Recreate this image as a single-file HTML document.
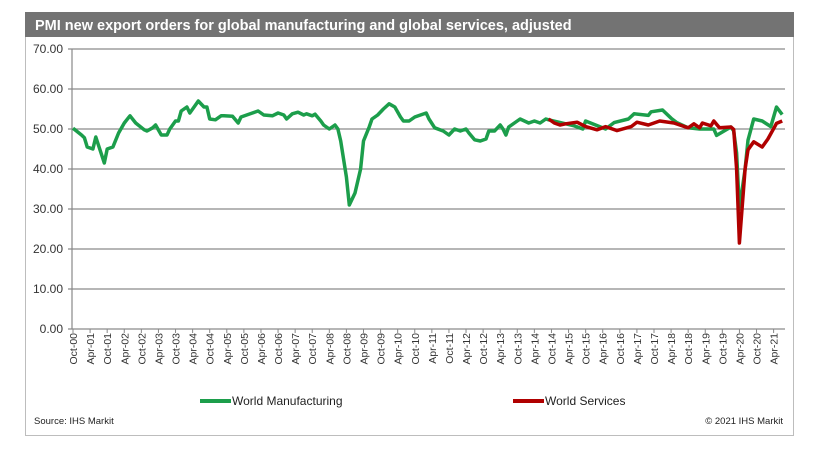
<!DOCTYPE html>
<html><head><meta charset="utf-8"><style>
body{margin:0;background:#fff;font-family:"Liberation Sans",Arial,sans-serif}
svg text{font-family:"Liberation Sans",Arial,sans-serif}
</style></head><body>
<svg id="chart" width="823" height="457" xmlns="http://www.w3.org/2000/svg">
<rect x="25.5" y="12.5" width="768" height="423" fill="#fff" stroke="#bdbdbd"/>
<rect x="25" y="12" width="769" height="25" fill="#737373"/>
<text x="35" y="30" fill="#fff" font-size="14.5" font-weight="bold">PMI new export orders for global manufacturing and global services, adjusted</text>
<g id="grid"></g><g id="yl"></g><g id="xl"></g><g id="lines"></g>
<line x1="200" y1="401" x2="231" y2="401" stroke="#1c9e4b" stroke-width="4"/>
<text x="232" y="405" font-size="12" fill="#222">World Manufacturing</text>
<line x1="513" y1="401" x2="544" y2="401" stroke="#b00000" stroke-width="4"/>
<text x="545" y="405" font-size="12" fill="#222">World Services</text>
<text x="34" y="424" font-size="9.5" fill="#222">Source: IHS Markit</text>
<text x="783" y="424" font-size="9.5" fill="#222" text-anchor="end">© 2021 IHS Markit</text>
</svg>
<script>
const yTicks=[0,10,20,30,40,50,60,70];
const xTickMonths=[0,6,12,18,24,30,36,42,48,54,60,66,72,78,84,90,96,102,108,114,120,126,132,138,144,150,156,162,168,174,180,186,192,198,204,210,216,222,228,234,240,246];
const xTickLabels=["Oct-00","Apr-01","Oct-01","Apr-02","Oct-02","Apr-03","Oct-03","Apr-04","Oct-04","Apr-05","Oct-05","Apr-06","Oct-06","Apr-07","Oct-07","Apr-08","Oct-08","Apr-09","Oct-09","Apr-10","Oct-10","Apr-11","Oct-11","Apr-12","Oct-12","Apr-13","Oct-13","Apr-14","Oct-14","Apr-15","Oct-15","Apr-16","Oct-16","Apr-17","Oct-17","Apr-18","Oct-18","Apr-19","Oct-19","Apr-20","Oct-20","Apr-21"];
const mfgMonths=[0,3,4,5,7,8,11,12,14,16,18,20,22,25,26,28,29,31,33,34,36,37,38,40,41,43,44,46,47,48,50,52,53,56,58,59,61,63,65,67,70,72,74,75,77,79,81,82,84,85,87,88,90,92,93,94,96,97,99,101,102,104,105,107,109,111,113,115,116,118,120,124,125,127,130,132,134,136,138,139,141,143,145,146,148,150,151,152,153,155,157,160,162,164,166,167,176,179,180,187,190,195,197,202,203,207,210,212,216,220,225,226,231,232,233,234,236,237,239,242,245,247,249];
const mfgValues=[50.2,48.5,47.8,45.5,45,48,41.5,45,45.5,49,51.5,53.3,51.5,49.8,49.5,50.3,51,48.5,48.5,50,52,52,54.5,55.5,54,56,57,55.5,55.5,52.5,52.3,53.3,53.3,53.2,51.5,53,53.5,54,54.5,53.5,53.3,54,53.5,52.5,53.8,54.2,53.5,53.8,53.3,53.7,52,51,50,51,50,47,38,31,34,40,47,50.5,52.5,53.5,55,56.3,55.5,53,52,52,53,54,52.5,50.3,49.5,48.5,50,49.5,50,49,47.3,47,47.5,49.5,49.5,51,50,48.5,50.5,51.5,52.5,51.5,52,51.5,52.5,52.3,50.8,50,52,50,51.6,52.5,53.8,53.4,54.3,54.75,52.7,51.6,50.3,50,50,48.4,50.5,49.5,44,30,40,47.2,52.5,52,50.6,55.5,53.6];
const svcMonths=[167,169,171,173,177,180,184,187,191,196,198,202,206,211,216,218,220,221,224,225,227,231,232,233,234,236,237,239,242,244,247,249];
const svcValues=[52.5,51.5,51,51.3,51.7,50.6,49.8,50.6,49.6,50.6,51.7,51,52,51.5,50.3,51.3,50.3,51.5,50.8,52,50.3,50.5,49.9,40,21.5,40,44.8,46.8,45.5,47.5,51.4,52];
const NS='http://www.w3.org/2000/svg';
const X0=72,XS=2.848,Y0=329,YS=4,XR=785;
const xs=m=>X0+1+m*XS, ys=v=>Y0-v*YS;
function mk(t,a,p){const e=document.createElementNS(NS,t);for(const k in a)e.setAttribute(k,a[k]);p.appendChild(e);return e;}
const grid=document.getElementById('grid'),yl=document.getElementById('yl'),xl=document.getElementById('xl'),lines=document.getElementById('lines');
yTicks.forEach(v=>{
 const g=mk('line',{x1:X0-4,x2:XR,y1:ys(v),y2:ys(v),stroke:'#8a8a8a','stroke-width':1.2},grid);
 
 
 const t=mk('text',{x:63,y:ys(v)+4,'font-size':12,fill:'#333','text-anchor':'end'},yl);
 t.textContent=v.toFixed(2);
 
 
});
const ax=mk('line',{x1:X0,x2:X0,y1:ys(70),y2:Y0,stroke:'#888','stroke-width':1.2},grid);


xTickMonths.forEach((m,i)=>{
 const tk=mk('line',{x1:xs(m),x2:xs(m),y1:Y0,y2:Y0+4,stroke:'#888'},xl);
 
 
 const t=mk('text',{x:0,y:0,'font-size':10.5,fill:'#333','text-anchor':'end',transform:`translate(${xs(m)+4},333) rotate(-90)`},xl);
 t.textContent=xTickLabels[i];
 
 
});
function path(ms,vs,c,name){
 const d=ms.map((m,i)=>(i?'L':'M')+xs(m).toFixed(1)+' '+ys(vs[i]).toFixed(1)).join(' ');
 const p=mk('path',{d:d,fill:'none',stroke:c,'stroke-width':3.5,'stroke-linejoin':'round'},lines);
 
 
}
path(mfgMonths,mfgValues,'#1c9e4b','world-manufacturing-line');
path(svcMonths,svcValues,'#b00000','world-services-line');
</script>
</body></html>
